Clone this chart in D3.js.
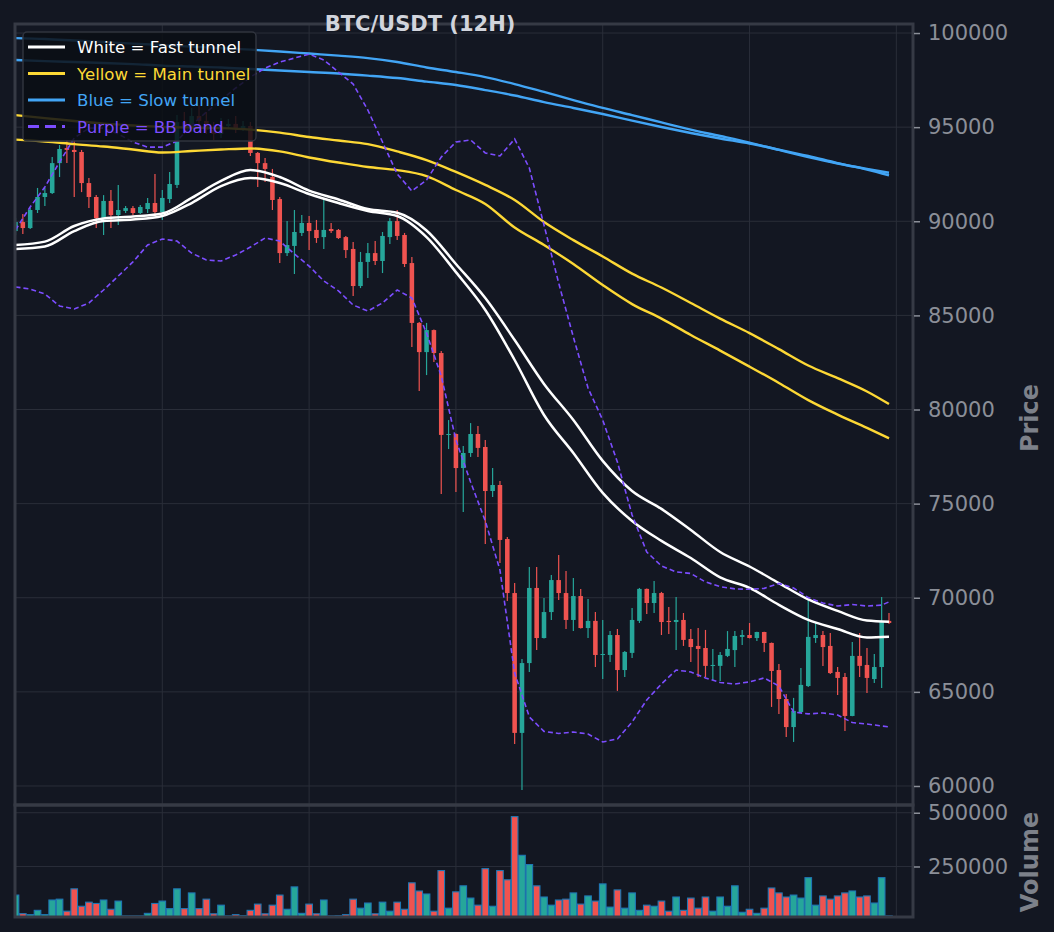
<!DOCTYPE html>
<html>
<head>
<meta charset="utf-8">
<title>BTC/USDT (12H)</title>
<script src="https://cdn.jsdelivr.net/npm/d3@7"></script>
<style>
    html, body { margin: 0; padding: 0; background: #131722; }
    svg { display: block; }
    text { font-family: "DejaVu Sans", sans-serif; }
</style>
</head>
<body>
<div id="chart"></div>
<script>
/* candles, 12H bars, index 0..119 */
var OPEN = [
    89480, 89960, 89640, 90600, 91290, 91500, 93090, 93890, 93790, 93680,
    92030, 91290, 90170, 91080, 90330, 90550, 90700, 90440, 90650, 90970,
    90490, 91180, 91930, 95270, 94950, 95590, 95330, 94850, 94640, 95060,
    95170, 94900, 95060, 93630, 93090, 92350, 91180, 88310, 88690, 89380,
    89910, 89540, 89160, 89590, 89540, 89160, 88530, 86560, 87840, 88310,
    87890, 89160, 90010, 89270, 87780, 84600, 83050, 84220, 83000, 78650,
    78700, 76890, 77690, 78700, 78010, 75670, 75990, 73120, 70250, 62820,
    66530, 70520, 67860, 69240, 70940, 70250, 68820, 70090, 68390, 68770,
    66960, 66960, 68020, 66160, 67070, 68770, 70470, 69720, 70250, 68770,
    68710, 68820, 67810, 67440, 67330, 66380, 66380, 66910, 67220, 67920,
    68020, 67860, 68180, 67600, 66160, 64620, 63130, 63930, 65310, 67860,
    68020, 67440, 66060, 65790, 63720, 66910, 66430, 65680, 66320, 68770
];
var HIGH = [
    90170, 90390, 90700, 91770, 91770, 93410, 94050, 94320, 94320, 93790,
    92300, 91390, 91390, 91660, 91930, 90810, 90810, 90860, 91240, 92510,
    91660, 92620, 95640, 95800, 96020, 96180, 95800, 95270, 95490, 95430,
    95590, 95330, 95270, 93680, 93360, 92780, 91290, 90010, 90600, 90330,
    90280, 90070, 91180, 89910, 89590, 89220, 88900, 88370, 88850, 88950,
    89430, 90170, 90600, 89380, 88100, 84650, 84600, 84250, 83110, 79440,
    78720, 78060, 79280, 79120, 78380, 76890, 76200, 73230, 70780, 66750,
    71630, 71630, 69990, 71210, 72270, 71420, 71050, 70470, 69930, 69240,
    68820, 68230, 68340, 67170, 69460, 70520, 70490, 70890, 70310, 69510,
    70040, 69190, 68340, 68390, 68290, 67280, 67120, 68230, 68230, 68290,
    68660, 68200, 68200, 67620, 66480, 64890, 64680, 66270, 69880, 68710,
    68230, 68130, 66320, 66000, 67650, 68130, 67330, 67010, 70040, 69190
];
var LOW = [
    89270, 89320, 89590, 90440, 90810, 91450, 92350, 93090, 91290, 91550,
    90700, 89640, 89270, 89640, 89800, 90440, 90330, 90390, 90440, 90330,
    90070, 90970, 91770, 94640, 94740, 95010, 94640, 94320, 94420, 94900,
    94690, 94790, 93470, 91820, 92090, 90600, 87780, 88150, 87200, 89220,
    88470, 88850, 88530, 89380, 89060, 88050, 86030, 86450, 86990, 87680,
    87250, 88790, 89000, 87570, 83320, 80980, 81830, 82520, 75510, 77900,
    75620, 74560, 77480, 77480, 72860, 75350, 71850, 69830, 62230, 59790,
    66060, 67220, 67840, 68820, 69880, 68340, 68230, 68360, 67860, 66320,
    65680, 66590, 65050, 65790, 66800, 68660, 69140, 69190, 68020, 68080,
    67220, 67440, 66590, 65790, 65790, 65630, 65580, 66850, 66320, 67490,
    67840, 67700, 67120, 64200, 63820, 62600, 62340, 63880, 65260, 67600,
    66380, 65950, 64840, 62920, 63700, 65790, 64940, 65470, 65210, 68610
];
var CLOSE = [
    89960, 89640, 90600, 91290, 91500, 93090, 93840, 93790, 93680, 92030,
    91290, 90170, 91080, 90330, 90600, 90700, 90440, 90760, 90970, 90490,
    91240, 91980, 95270, 94950, 95590, 95330, 94850, 94640, 95060, 95170,
    94900, 95060, 93630, 93090, 92780, 91130, 88310, 88740, 89430, 89910,
    89480, 89110, 89540, 89480, 89110, 88470, 86560, 87840, 88310, 87890,
    89220, 90010, 89220, 87730, 84600, 83050, 84220, 83000, 78650, 78700,
    76890, 77690, 78700, 77960, 75670, 75990, 73070, 70250, 62820, 66530,
    70520, 67860, 69240, 70940, 70250, 68820, 70090, 68390, 68770, 66960,
    67010, 68020, 66160, 67120, 68820, 70470, 69720, 70250, 68710, 68710,
    68820, 67760, 67380, 67280, 66380, 66430, 66960, 67280, 67970, 68020,
    67860, 68180, 67600, 66110, 64620, 63130, 63990, 65370, 67920, 68020,
    67380, 66000, 65740, 63720, 66910, 66380, 65740, 66320, 68710, 68660
];
var VOLUME = [
    117000,  30500,  25800,  46000,  26000,  94000,  98000,  42000, 146000,  65000,
     84000,  78000,  94000,  51000,  89000,  20000,  20000,  20000,  32000,  78000,
     89000,  54000, 146000,  54000, 127000,  54000,  98000,  30000,  70000,  20000,
     26000,  21000,  46000,  75000,  30000,  70000, 117000,  51000, 155000,  32000,
     75000,  30000,  94000,  20000,  21000,  26000,  98000,  56000,  80000,  30000,
     84000,  42000,  84000,  51000, 174000, 136000, 122000,  42000, 231000,  56000,
    132000, 160000, 103000,  70000, 240000,  65000, 231000, 188000, 482000, 302000,
    259000, 160000, 108000,  70000,  94000,  98000, 127000,  75000, 113000,  89000,
    169000,  61000, 141000,  56000, 127000,  46000,  70000,  65000,  89000,  42000,
    108000,  46000, 103000,  56000, 108000,  42000, 108000,  65000, 160000,  37000,
     51000,  32000,  56000, 150000, 127000, 108000, 117000, 103000, 198000,  70000,
    113000,  98000, 113000, 127000, 136000, 108000, 113000,  80000, 198000,  20000
];

/* tunnels, read every 4th bar */
var TUNNEL_IDX = [0, 4, 8, 12, 16, 20, 24, 28, 32, 36, 40, 44, 48, 52, 56, 60,
                  64, 68, 72, 76, 80, 84, 88, 92, 96, 100, 104, 108, 112, 116, 119];
var FAST_UP = [88740, 88920, 89750, 90150, 90250, 90410, 91240, 92140, 92720, 92350, 91630,
               91160, 90650, 90450, 89510, 87730, 85920, 83690, 81360, 79440, 77270, 75670,
               74720, 73600, 72430, 71660, 70780, 69910, 69300, 68790, 68730];
var FAST_LO = [88530, 88660, 89480, 90010, 90090, 90280, 90970, 91870, 92300, 92030, 91450,
               90970, 90550, 90280, 89160, 87300, 85290, 82630, 79710, 77690, 75570, 74080,
               73020, 72110, 71080, 70520, 69620, 68820, 68340, 67890, 67930];
var MAIN_UP = [95640, 95480, 95330, 95190, 95090, 95010, 94980, 94950, 94870, 94710, 94480,
               94290, 94100, 93710, 93250, 92620, 91930, 91130, 89960, 89000, 88130, 87220,
               86480, 85660, 84830, 84060, 83210, 82340, 81670, 80960, 80290];
var MAIN_LO = [94340, 94240, 94100, 93970, 93810, 93650, 93730, 93810, 93870, 93710, 93390,
               93120, 92880, 92720, 92400, 91660, 90920, 89670, 88740, 87730, 86610, 85600,
               84830, 83960, 83130, 82280, 81410, 80500, 79730, 79020, 78470];
var SLOW_UP = [99730, 99680, 99600, 99520, 99440, 99360, 99280, 99200, 99120, 99020, 98910,
               98800, 98670, 98460, 98170, 97930, 97660, 97290, 96870, 96440, 96020, 95640,
               95250, 94870, 94530, 94180, 93790, 93410, 93070, 92780, 92580];
var SLOW_LO = [98570, 98510, 98460, 98410, 98350, 98270, 98220, 98170, 98090, 98010, 97930,
               97850, 97740, 97610, 97420, 97240, 96970, 96680, 96330, 96020, 95700, 95350,
               95010, 94690, 94400, 94130, 93810, 93470, 93090, 92750, 92440];

/* bollinger band, read every 2nd bar */
var BB_IDX = [0, 2, 4, 6, 8, 10, 12, 14, 16, 18, 20, 22, 24, 26, 28, 30, 32, 34, 36, 38,
              40, 42, 44, 46, 48, 50, 52, 54, 56, 58, 60, 62, 64, 66, 68, 70, 72, 74, 76, 78,
              80, 82, 84, 86, 88, 90, 92, 94, 96, 98, 100, 102, 104, 106, 108, 110, 112, 114,
              116, 118, 119];
var BB_UP = [89540, 90760, 91820, 93150, 94420, 94950, 94950, 94640, 94210, 93940, 93940,
             94260, 95110, 95800, 96440, 97080, 97660, 98140, 98460, 98670, 98880, 98570,
             97930, 97290, 95910, 94210, 92510, 91610, 92190, 93410, 94210, 94320, 93630,
             93470, 94370, 92830, 89800, 86720, 83850, 81140, 79440, 77210, 74400, 72430,
             71690, 71370, 71290, 70840, 70590, 70470, 70450, 70500, 70760, 70520, 70010,
             69720, 69560, 69640, 69560, 69610, 69780];
var BB_LO = [86510, 86400, 86140, 85500, 85340, 85660, 86350, 87090, 87840, 88740, 89060,
             88950, 88310, 87940, 87890, 88210, 88630, 89110, 88950, 88260, 87620, 86830,
             86300, 85550, 85230, 85660, 86350, 85920, 84060, 81780, 78380, 76150, 74080,
             71470, 66000, 63670, 62900, 62790, 62870, 62760, 62340, 62500, 63400, 64570,
             65420, 66160, 66060, 65740, 65500, 65420, 65530, 65740, 65310, 63930, 63830,
             63880, 63770, 63370, 63290, 63190, 63140];

/* axes */
var PRICE_TICKS = [60000, 65000, 70000, 75000, 80000, 85000, 90000, 95000, 100000];
var VOLUME_TICKS = [250000, 500000];
var GRID_IDX = [20, 40, 60, 80, 100, 120];

var LEGEND_LABELS = ["White = Fast tunnel", "Yellow = Main tunnel", "Blue = Slow tunnel", "Purple = BB band"];

(function () {

    var W = 1054, H = 932;
    var LEFT = 15, RIGHT = 913, TOP = 24, MID = 805, BOTTOM = 917;

    var C_BG    = "#131722";
    var C_GRID  = "#2a2e39";
    var C_SPINE = "#363a45";
    var C_TICK  = "#8b8f98";
    var C_UP    = "#26a69a";
    var C_DOWN  = "#ef5350";
    var C_WHITE = "#ffffff";
    var C_YEL   = "#fdd835";
    var C_BLUE  = "#42a5f5";
    var C_PURP  = "#7c4dff";

    var svg = d3.select("#chart").append("svg")
        .attr("width", W)
        .attr("height", H);

    svg.append("rect").attr("width", W).attr("height", H).attr("fill", C_BG);

    /* scales */
    var x  = d3.scaleLinear().domain([0, 122.27]).range([LEFT + 0.5, RIGHT]);
    var yP = d3.scaleLinear().domain([58990, 100480]).range([MID, TOP]);
    var yV = d3.scaleLinear().domain([15000, 536000]).range([BOTTOM, MID]);
    var step = x(1) - x(0);

    var defs = svg.append("defs");
    defs.append("clipPath").attr("id", "clip-price")
        .append("rect").attr("x", LEFT).attr("y", TOP)
        .attr("width", RIGHT - LEFT).attr("height", MID - TOP);
    defs.append("clipPath").attr("id", "clip-vol")
        .append("rect").attr("x", LEFT).attr("y", MID)
        .attr("width", RIGHT - LEFT).attr("height", BOTTOM - MID);

    /* grid */
    var grid = svg.append("g").attr("stroke", C_GRID).attr("stroke-width", 1);
    grid.selectAll(".hp").data(PRICE_TICKS).enter().append("line")
        .attr("x1", LEFT).attr("x2", RIGHT)
        .attr("y1", function (d) { return yP(d); })
        .attr("y2", function (d) { return yP(d); });
    grid.selectAll(".hv").data(VOLUME_TICKS).enter().append("line")
        .attr("x1", LEFT).attr("x2", RIGHT)
        .attr("y1", function (d) { return yV(d); })
        .attr("y2", function (d) { return yV(d); });
    grid.selectAll(".vx").data(GRID_IDX).enter().append("line")
        .attr("x1", function (d) { return x(d); })
        .attr("x2", function (d) { return x(d); })
        .attr("y1", TOP).attr("y2", BOTTOM);

    /* candles */
    var bars = d3.range(OPEN.length).map(function (i) {
        return { i: i, o: OPEN[i], h: HIGH[i], l: LOW[i], c: CLOSE[i], v: VOLUME[i] };
    });
    function col(d) { return d.c >= d.o ? C_UP : C_DOWN; }

    var gc = svg.append("g").attr("clip-path", "url(#clip-price)");
    var bw = step * 0.62;

    gc.selectAll(".wick").data(bars).enter().append("line")
        .attr("x1", function (d) { return x(d.i); })
        .attr("x2", function (d) { return x(d.i); })
        .attr("y1", function (d) { return yP(d.h); })
        .attr("y2", function (d) { return yP(d.l); })
        .attr("stroke", col)
        .attr("stroke-width", 1.2);

    gc.selectAll(".body").data(bars).enter().append("rect")
        .attr("x", function (d) { return x(d.i) - bw / 2; })
        .attr("width", bw)
        .attr("y", function (d) { return yP(Math.max(d.o, d.c)); })
        .attr("height", function (d) { return Math.max(1, Math.abs(yP(d.o) - yP(d.c))); })
        .attr("fill", col);

    /* overlay lines */
    function series(idx, vals) {
        return idx.map(function (k, j) { return [k, vals[j]]; });
    }
    var smooth = d3.line()
        .x(function (d) { return x(d[0]); })
        .y(function (d) { return yP(d[1]); })
        .curve(d3.curveMonotoneX);
    var plain = d3.line()
        .x(function (d) { return x(d[0]); })
        .y(function (d) { return yP(d[1]); });

    var lines = [
        { v: SLOW_UP, c: C_BLUE,  w: 2.4 },
        { v: SLOW_LO, c: C_BLUE,  w: 2.4 },
        { v: MAIN_UP, c: C_YEL,   w: 2.4 },
        { v: MAIN_LO, c: C_YEL,   w: 2.4 },
        { v: FAST_UP, c: C_WHITE, w: 2.5 },
        { v: FAST_LO, c: C_WHITE, w: 2.5 }
    ];
    lines.forEach(function (ln) {
        gc.append("path")
            .attr("d", smooth(series(TUNNEL_IDX, ln.v)))
            .attr("fill", "none")
            .attr("stroke", ln.c)
            .attr("stroke-width", ln.w)
            .attr("stroke-linejoin", "round");
    });
    [BB_UP, BB_LO].forEach(function (vals) {
        gc.append("path")
            .attr("d", plain(series(BB_IDX, vals)))
            .attr("fill", "none")
            .attr("stroke", C_PURP)
            .attr("stroke-width", 1.6)
            .attr("stroke-dasharray", "5,3");
    });

    /* volume */
    var gv = svg.append("g").attr("clip-path", "url(#clip-vol)");
    var vw = step * 0.9;
    gv.selectAll(".vol").data(bars).enter().append("rect")
        .attr("x", function (d) { return x(d.i) - vw / 2; })
        .attr("width", vw)
        .attr("y", function (d) { return yV(d.v); })
        .attr("height", function (d) { return Math.max(0, BOTTOM + 2 - yV(d.v)); })
        .attr("fill", col)
        .attr("stroke", "#1f77b4")
        .attr("stroke-width", 1.1);

    /* spines */
    var sp = svg.append("g").attr("fill", "none").attr("stroke", C_SPINE).attr("stroke-width", 3);
    sp.append("rect").attr("x", LEFT).attr("y", TOP).attr("width", RIGHT - LEFT).attr("height", MID - TOP);
    sp.append("rect").attr("x", LEFT).attr("y", MID).attr("width", RIGHT - LEFT).attr("height", BOTTOM - MID);

    /* right axes */
    function styleAxis(g) {
        g.select(".domain").remove();
        g.selectAll(".tick line").attr("stroke", C_TICK).attr("stroke-width", 1.5);
        g.selectAll(".tick text")
            .attr("fill", C_TICK)
            .attr("font-size", "21px")
            .attr("font-family", "DejaVu Sans, sans-serif");
    }
    svg.append("g")
        .attr("transform", "translate(" + (RIGHT + 1) + ",0)")
        .call(d3.axisRight(yP).tickValues(PRICE_TICKS).tickSize(6).tickPadding(8)
            .tickFormat(d3.format("d")))
        .call(styleAxis);
    svg.append("g")
        .attr("transform", "translate(" + (RIGHT + 1) + ",0)")
        .call(d3.axisRight(yV).tickValues(VOLUME_TICKS).tickSize(6).tickPadding(8)
            .tickFormat(d3.format("d")))
        .call(styleAxis);

    /* axis titles */
    svg.append("text")
        .attr("transform", "translate(1038,418) rotate(-90)")
        .attr("text-anchor", "middle")
        .attr("font-size", "24px").attr("font-weight", "bold")
        .attr("fill", "#7d818a")
        .text("Price");
    svg.append("text")
        .attr("transform", "translate(1038,862) rotate(-90)")
        .attr("text-anchor", "middle")
        .attr("font-size", "24px").attr("font-weight", "bold")
        .attr("fill", "#7d818a")
        .text("Volume");

    /* title */
    svg.append("text")
        .attr("x", 420).attr("y", 31)
        .attr("text-anchor", "middle")
        .attr("font-size", "21px").attr("font-weight", "bold")
        .attr("fill", "#d1d4dc")
        .text("BTC/USDT (12H)");

    /* legend */
    var LEG_COLORS = [C_WHITE, C_YEL, C_BLUE, C_PURP];
    var lg = svg.append("g").attr("transform", "translate(23,32)");
    lg.append("rect")
        .attr("width", 233).attr("height", 109).attr("rx", 4)
        .attr("fill", "#0b0e14").attr("fill-opacity", 0.85)
        .attr("stroke", "#30343e").attr("stroke-width", 1.5);
    LEGEND_LABELS.forEach(function (lbl, i) {
        var yy = 15 + i * 26.5;
        lg.append("line")
            .attr("x1", 5).attr("x2", 42).attr("y1", yy).attr("y2", yy)
            .attr("stroke", LEG_COLORS[i]).attr("stroke-width", 3)
            .attr("stroke-dasharray", i === 3 ? "11,6" : null);
        lg.append("text")
            .attr("x", 54).attr("y", yy + 6)
            .attr("font-size", "16.6px")
            .attr("fill", LEG_COLORS[i])
            .text(lbl);
    });

}());
</script>
</body>
</html>
